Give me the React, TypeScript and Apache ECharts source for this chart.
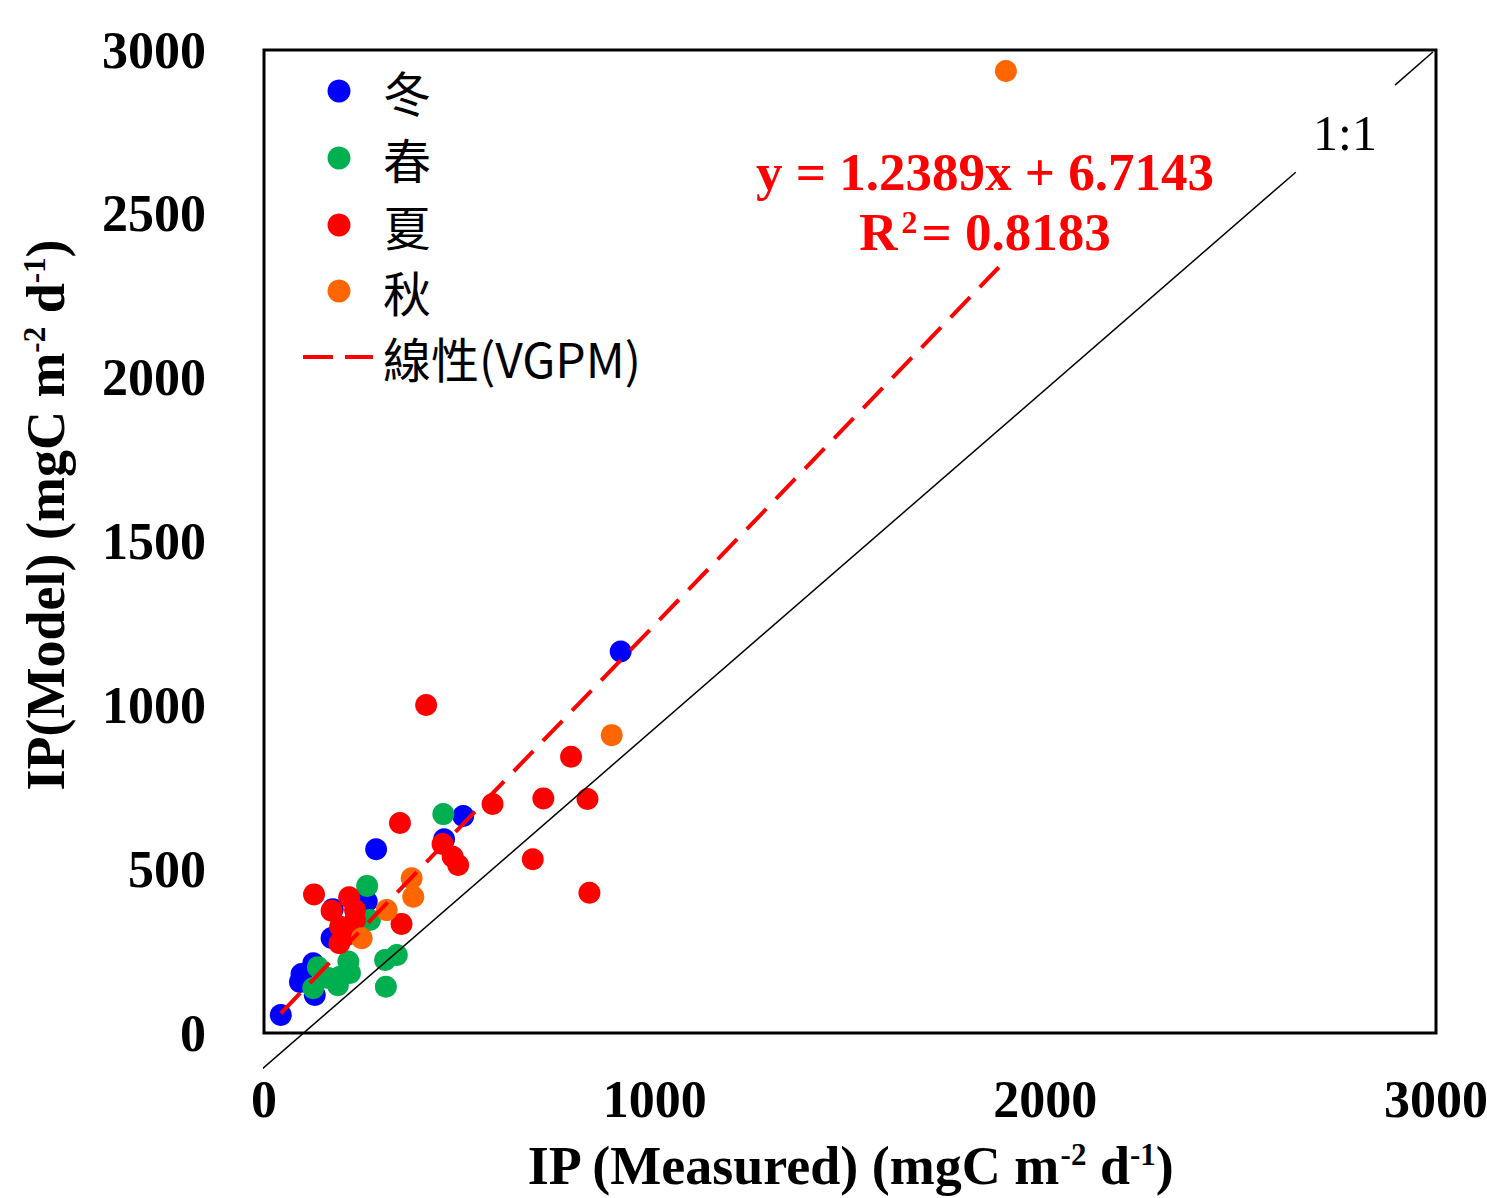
import React, { useEffect, useRef } from "react";
import * as echarts from "echarts";

// ---- Data ----
const seasonNames = ["冬", "春", "夏", "秋"];
const seasonColors = ["#0000FF", "#00B050", "#FF0000", "#FF6600"];

const winter: number[][] = [
  [43, 55], [92, 156], [96, 180], [126, 213], [130, 116], [173, 290],
  [176, 378], [263, 401], [287, 561], [461, 591], [510, 662], [913, 1164],
];
const spring: number[][] = [
  [126, 137], [138, 201], [164, 168], [189, 146], [195, 172], [216, 218],
  [220, 183], [264, 449], [271, 345], [310, 223], [312, 141], [340, 238],
  [459, 668],
];
const summer: number[][] = [
  [128, 423], [173, 373], [193, 274], [195, 324], [212, 299], [218, 414],
  [233, 345], [233, 375], [348, 641], [352, 333], [415, 1001], [457, 577],
  [483, 538], [497, 513], [585, 699], [688, 530], [715, 716], [786, 843],
  [828, 714], [833, 428],
];
const autumn: number[][] = [
  [250, 289], [314, 375], [378, 472], [382, 416], [890, 909], [1899, 2936],
];
const seasonData = [winter, spring, summer, autumn];

const fitName = "線性(VGPM)";
const fitLine: number[][] = [[43, 60], [1881, 2337]];
const oneToOneLower: number[][] = [[-5, -110], [2641, 2627]];
const oneToOneUpper: number[][] = [[2895, 2893], [2992, 2994]];

const axisMin = 0;
const axisMax = 3000;
const xInterval = 1000;
const yInterval = 500;

const xAxisTitle = "IP (Measured) (mgC m{sup|-2} d{sup|-1})";
const yAxisTitle = "IP(Model) (mgC m{sup|-2} d{sup|-1})";
const equationText = "y = 1.2389x + 6.7143";
const r2Value = "0.8183";

const SERIF = "'Liberation Serif', 'Times New Roman', serif";
const CJK = "'Noto Sans CJK TC', 'Noto Sans CJK SC', sans-serif";

const supStyle = {
  fontSize: 31,
  fontWeight: "bold",
  fontFamily: SERIF,
  fill: "#000",
  color: "#000",
  verticalAlign: "top",
};

export default function App() {
  const ref = useRef<HTMLDivElement>(null);

  useEffect(() => {
    if (!ref.current) return;
    const chart = echarts.init(ref.current, undefined, { renderer: "svg" });

    const legendYs = [91, 158, 225, 291];
    const legendGraphics: any[] = [];
    seasonNames.forEach((n, i) => {
      legendGraphics.push({
        type: "circle",
        shape: { cx: 339, cy: legendYs[i], r: 11.5 },
        style: { fill: seasonColors[i] },
        z: 100,
      });
      legendGraphics.push({
        type: "text",
        x: 383,
        y: legendYs[i],
        style: {
          text: n,
          fontSize: 48,
          fontFamily: CJK,
          fill: "#000",
          align: "left",
          verticalAlign: "middle",
        },
        z: 100,
      });
    });
    legendGraphics.push({
      type: "line",
      shape: { x1: 303, y1: 357, x2: 373, y2: 357 },
      style: { stroke: "#FF0000", lineWidth: 4, lineDash: [30, 12] },
      z: 100,
    });
    legendGraphics.push({
      type: "text",
      x: 383,
      y: 357,
      style: {
        text: fitName,
        fontSize: 48,
        fontFamily: CJK,
        fill: "#000",
        align: "left",
        verticalAlign: "middle",
      },
      z: 100,
    });

    const labelStyle = {
      fontSize: 52,
      fontWeight: "bold",
      fontFamily: SERIF,
      color: "#000",
      formatter: (v: number) => String(v),
    };

    const option: any = {
      animation: false,
      backgroundColor: "#fff",
      grid: {
        left: 264,
        top: 50,
        width: 1172,
        height: 983,
        show: true,
        borderColor: "#000",
        borderWidth: 3,
        containLabel: false,
        outerBoundsMode: "none",
      },
      xAxis: {
        type: "value",
        min: axisMin,
        max: axisMax,
        interval: xInterval,
        axisLine: { show: false },
        axisTick: { show: false },
        splitLine: { show: false },
        axisLabel: { ...labelStyle, margin: 40 },
      },
      yAxis: {
        type: "value",
        min: axisMin,
        max: axisMax,
        interval: yInterval,
        axisLine: { show: false },
        axisTick: { show: false },
        splitLine: { show: false },
        axisLabel: { ...labelStyle, margin: 58 },
      },
      series: [
        ...seasonNames.map((n, i) => ({
          name: n,
          type: "scatter",
          data: seasonData[i],
          symbol: "circle",
          symbolSize: 22,
          itemStyle: { color: seasonColors[i], opacity: 1 },
          z: 2 + i,
        })),
        {
          name: fitName,
          type: "line",
          data: fitLine,
          symbol: "none",
          clip: false,
          lineStyle: { color: "#FF0000", width: 4, type: [28, 14] },
          z: 20,
        },
        {
          name: "1:1a",
          type: "line",
          data: oneToOneLower,
          symbol: "none",
          clip: false,
          lineStyle: { color: "#000", width: 1.5 },
          z: 19,
        },
        {
          name: "1:1b",
          type: "line",
          data: oneToOneUpper,
          symbol: "none",
          clip: false,
          lineStyle: { color: "#000", width: 1.5 },
          z: 19,
        },
      ],
      graphic: [
        ...legendGraphics,
        {
          type: "text",
          x: 850,
          y: 1166,
          style: {
            text: xAxisTitle,
            fontSize: 54,
            fontWeight: "bold",
            fontFamily: SERIF,
            fill: "#000",
            align: "center",
            verticalAlign: "middle",
            rich: { sup: supStyle },
          },
          z: 100,
        },
        {
          type: "text",
          x: 46,
          y: 515,
          rotation: Math.PI / 2,
          style: {
            text: yAxisTitle,
            fontSize: 54,
            fontWeight: "bold",
            fontFamily: SERIF,
            fill: "#000",
            align: "center",
            verticalAlign: "middle",
            rich: { sup: supStyle },
          },
          z: 100,
        },
        {
          type: "text",
          x: 985,
          y: 172,
          style: {
            text: equationText,
            fontSize: 53,
            fontWeight: "bold",
            fontFamily: SERIF,
            fill: "#FF0000",
            align: "center",
            verticalAlign: "middle",
          },
          z: 100,
        },
        {
          type: "text",
          x: 985,
          y: 232,
          style: {
            text: "R{sup|2}= " + r2Value,
            fontSize: 53,
            fontWeight: "bold",
            fontFamily: SERIF,
            fill: "#FF0000",
            align: "center",
            verticalAlign: "middle",
            rich: {
              sup: {
                fontSize: 32,
                fontWeight: "bold",
                fontFamily: SERIF,
                fill: "#FF0000",
                verticalAlign: "top",
                padding: [0, 4, 0, 4],
              },
            },
          },
          z: 100,
        },
        {
          type: "text",
          x: 1345,
          y: 133,
          style: {
            text: "1:1",
            fontSize: 50,
            fontFamily: SERIF,
            fill: "#000",
            align: "center",
            verticalAlign: "middle",
          },
          z: 100,
        },
      ],
    };

    chart.setOption(option);
    return () => {
      chart.dispose();
    };
  }, []);

  return (
    <div
      ref={ref}
      style={{ position: "fixed", left: 0, top: 0, width: 1487, height: 1198 }}
    />
  );
}
